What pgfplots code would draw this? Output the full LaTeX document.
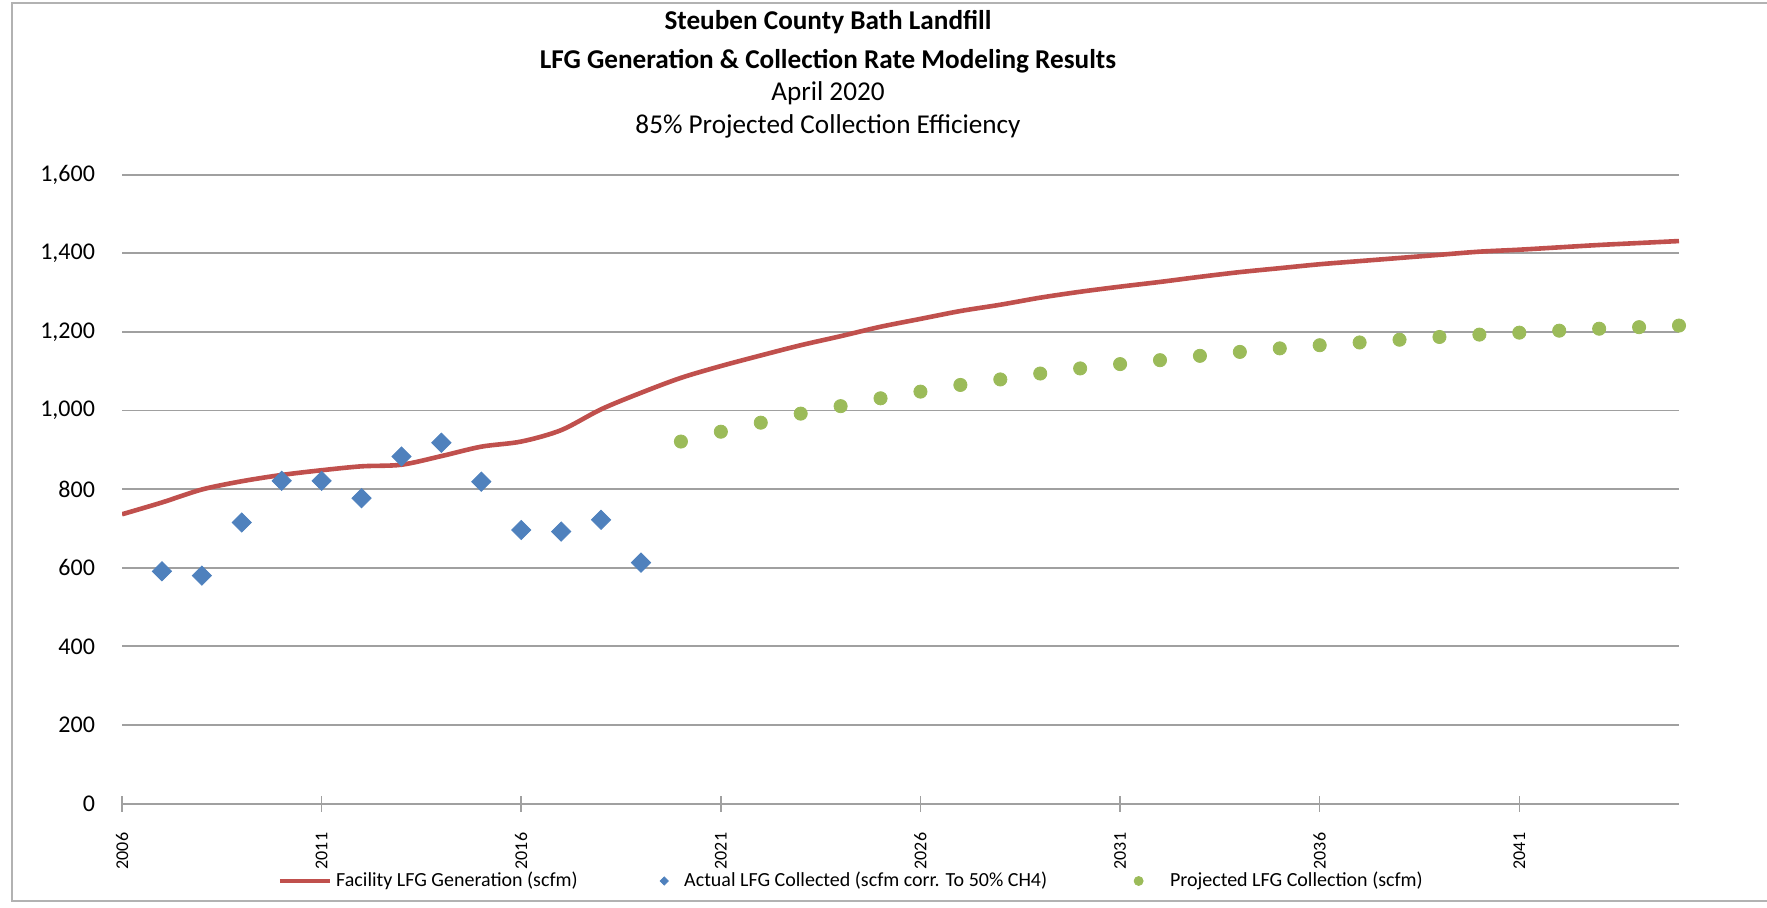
\documentclass[border=0pt]{standalone}
\usepackage{pgfplots}
\pgfplotsset{compat=1.18}
\usepackage{fontspec}
\setmainfont{Carlito}
\definecolor{exred}{RGB}{192,80,77}
\definecolor{exblue}{RGB}{79,129,189}
\definecolor{exgreen}{RGB}{155,187,89}
\definecolor{gridc}{RGB}{160,160,160}
\pgfplotsset{
  mylineleg/.style={legend image code/.code={\draw[##1] (0pt,0pt) -- (25pt,0pt);}},
  mydiamleg/.style={legend image code/.code={\path[draw=none, fill=none] (-2pt,0pt) rectangle (8pt,0.1pt); \draw[##1, only marks, mark size=1.45pt] plot coordinates {(0pt,0pt)};}},
  mydotleg/.style={legend image code/.code={\path[draw=none, fill=none] (-4.5pt,0pt) rectangle (13.7pt,0.1pt); \draw[##1, only marks, mark size=2.25pt] plot coordinates {(0pt,0pt)};}},
}
\begin{document}
\begin{tikzpicture}
\path[use as bounding box] (0,0) rectangle (883.5pt,-453.5pt);
\clip (0,0) rectangle (883.5pt,-453.5pt);
\draw[gray!60, line width=1.2pt] (6pt,-1.5pt) rectangle (900pt,-450.5pt);
\node[font=\fontsize{13.6}{16}\selectfont\bfseries] at (414pt,-11pt) {Steuben County Bath Landfill};
\node[font=\fontsize{13.6}{16}\selectfont\bfseries] at (414pt,-30.5pt) {LFG Generation \& Collection Rate Modeling Results};
\node[font=\fontsize{13.6}{16}\selectfont] at (414pt,-46.5pt) {April 2020};
\node[font=\fontsize{13.6}{16}\selectfont] at (414pt,-63pt) {85\% Projected Collection Efficiency};
\begin{axis}[
  at={(61pt,-401.8pt)}, anchor=south west,
  scale only axis, width=778.5pt, height=314.5pt,
  xmin=2006, xmax=2045, ymin=0, ymax=1600,
  axis x line*=bottom, axis y line*=left,
  x axis line style={gridc, line width=1pt, -},
  y axis line style={draw=none},
  ytick={0,200,...,1600},
  ymajorgrids, major grid style={gridc, line width=0.9pt},
  ytick style={draw=none},
  xtick={2006,2011,2016,2021,2026,2031,2036,2041},
  xticklabels={2006,2011,2016,2021,2026,2031,2036,2041},
  xtick style={gridc, line width=0.8pt},
  tick align=center, major tick length=8pt,
  /pgf/number format/assume math mode=true,
  /pgf/number format/1000 sep={,},
  yticklabel style={font=\fontsize{12}{14}\selectfont, xshift=-6pt},
  xticklabel style={font=\fontsize{9}{10}\selectfont, yshift=-19.7pt, rotate=90, anchor=center},
  legend columns=3,
  legend style={at={(0.469,-0.123)}, anchor=center, draw=none, fill=none,
    font=\fontsize{10}{12}\selectfont, /tikz/every even column/.append style={column sep=39.2pt}},
]
\addplot[exred, line width=2.3pt, smooth, tension=0.5, mylineleg] coordinates {
(2006,736) (2007,766) (2008,799) (2009,820) (2010,836) (2011,848) (2012,858) (2013,862)
(2014,884) (2015,908) (2016,921) (2017,950) (2018,1003) (2019,1045) (2020,1083)
(2021,1113) (2022,1140) (2023,1166) (2024,1189) (2025,1213) (2026,1233) (2027,1253)
(2028,1269) (2029,1287) (2030,1302) (2031,1315) (2032,1327) (2033,1340) (2034,1352)
(2035,1362) (2036,1372) (2037,1380) (2038,1388) (2039,1396) (2040,1404) (2041,1409)
(2042,1415) (2043,1421) (2044,1426) (2045,1431)};
\addlegendentry{Facility LFG Generation (scfm)}
\addplot[only marks, mark=square*, mark size=3.4pt, mark options={rotate=45}, color=exblue, mydiamleg] coordinates {
(2007,591) (2008,580) (2009,715) (2010,821) (2011,821) (2012,777) (2013,883)
(2014,918) (2015,819) (2016,696) (2017,692) (2018,722) (2019,613)};
\addlegendentry{Actual LFG Collected (scfm corr. To 50\% CH4)}
\addplot[only marks, mark=*, mark size=3.3pt, color=exgreen, mydotleg] coordinates {
(2020,921) (2021,946) (2022,969) (2023,992) (2024,1011) (2025,1031) (2026,1048)
(2027,1065) (2028,1079) (2029,1094) (2030,1107) (2031,1118) (2032,1128) (2033,1139)
(2034,1149) (2035,1158) (2036,1166) (2037,1173) (2038,1180) (2039,1187) (2040,1193)
(2041,1198) (2042,1203) (2043,1208) (2044,1212) (2045,1216)};
\addlegendentry{Projected LFG Collection (scfm)}
\end{axis}
\end{tikzpicture}
\end{document}
